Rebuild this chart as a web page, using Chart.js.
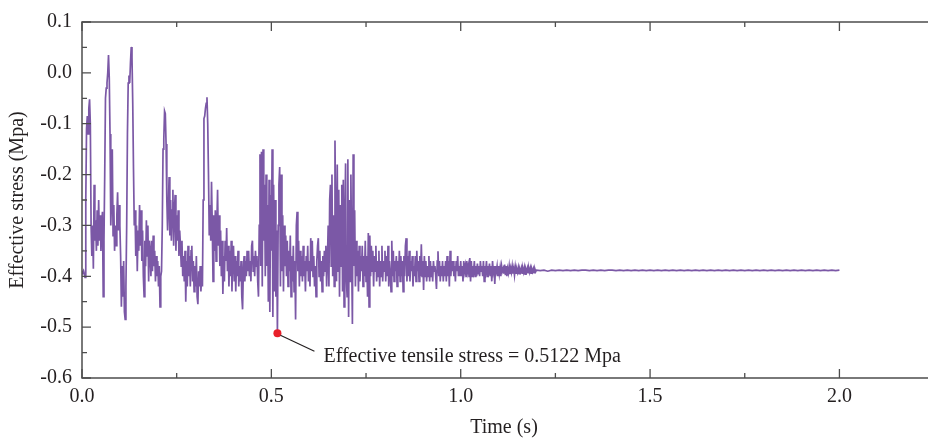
<!DOCTYPE html>
<html><head><meta charset="utf-8">
<script src="https://cdn.jsdelivr.net/npm/chart.js@4.4.1/dist/chart.umd.min.js"></script>
<style>html,body{margin:0;padding:0;background:#fff;overflow:hidden}#wrap{width:930px;height:440px;position:relative}</style>
</head><body><div id="wrap"><canvas id="c" width="930" height="440"></canvas></div>
<script>
// sampled signal, first part: 0 .. 1.198 s every 0.002 s
const earlyStep = 0.002;
const stressEarly = [
-0.390,-0.392,-0.389,-0.395,-0.402,-0.250,-0.110,-0.085,-0.120,-0.070,
-0.052,-0.100,-0.300,-0.360,-0.300,-0.385,-0.220,-0.330,-0.290,-0.350,
-0.270,-0.340,-0.250,-0.330,-0.280,-0.350,-0.300,-0.273,-0.440,-0.330,
-0.200,-0.050,-0.030,-0.020,0.000,0.035,-0.010,-0.120,-0.300,-0.250,
-0.150,-0.320,-0.260,-0.350,-0.300,-0.340,-0.280,-0.235,-0.310,-0.260,
-0.300,-0.360,-0.460,-0.380,-0.440,-0.370,-0.470,-0.485,-0.420,-0.300,
-0.120,-0.020,-0.005,-0.020,0.020,0.051,0.030,-0.060,-0.190,-0.300,
-0.270,-0.360,-0.300,-0.390,-0.310,-0.350,-0.260,-0.340,-0.270,-0.370,
-0.310,-0.400,-0.440,-0.330,-0.380,-0.290,-0.360,-0.300,-0.410,-0.330,
-0.350,-0.400,-0.330,-0.390,-0.320,-0.380,-0.350,-0.410,-0.360,-0.400,
-0.370,-0.420,-0.380,-0.460,-0.400,-0.390,-0.300,-0.150,-0.130,-0.075,
-0.080,-0.140,-0.250,-0.310,-0.260,-0.205,-0.320,-0.250,-0.330,-0.270,
-0.230,-0.340,-0.270,-0.240,-0.350,-0.280,-0.330,-0.270,-0.360,-0.310,
-0.340,-0.380,-0.330,-0.400,-0.360,-0.410,-0.350,-0.450,-0.370,-0.420,
-0.340,-0.400,-0.360,-0.420,-0.350,-0.340,-0.410,-0.370,-0.430,-0.380,
-0.420,-0.360,-0.440,-0.455,-0.390,-0.420,-0.380,-0.430,-0.400,-0.420,
-0.250,-0.090,-0.085,-0.070,-0.060,-0.048,-0.100,-0.200,-0.320,-0.260,
-0.330,-0.214,-0.300,-0.410,-0.280,-0.350,-0.270,-0.370,-0.300,-0.230,
-0.340,-0.280,-0.380,-0.310,-0.400,-0.330,-0.435,-0.360,-0.410,-0.330,
-0.370,-0.305,-0.390,-0.340,-0.420,-0.350,-0.400,-0.330,-0.430,-0.360,
-0.340,-0.410,-0.360,-0.430,-0.370,-0.400,-0.350,-0.420,-0.380,-0.410,
-0.370,-0.440,-0.465,-0.390,-0.360,-0.410,-0.370,-0.400,-0.350,-0.390,
-0.350,-0.400,-0.370,-0.410,-0.340,-0.330,-0.390,-0.360,-0.400,-0.350,
-0.380,-0.360,-0.410,-0.440,-0.300,-0.160,-0.380,-0.155,-0.420,-0.150,
-0.330,-0.220,-0.400,-0.200,-0.380,-0.260,-0.450,-0.210,-0.470,-0.240,
-0.350,-0.150,-0.480,-0.220,-0.430,-0.250,-0.440,-0.310,-0.5122,-0.300,
-0.220,-0.185,-0.420,-0.200,-0.390,-0.280,-0.430,-0.300,-0.380,-0.320,
-0.400,-0.330,-0.420,-0.350,-0.390,-0.320,-0.440,-0.360,-0.410,-0.340,
-0.430,-0.370,-0.485,-0.300,-0.273,-0.390,-0.330,-0.420,-0.350,-0.400,
-0.360,-0.410,-0.340,-0.400,-0.370,-0.430,-0.360,-0.390,-0.340,-0.410,
-0.370,-0.420,-0.325,-0.390,-0.330,-0.400,-0.360,-0.420,-0.380,-0.440,
-0.370,-0.340,-0.325,-0.400,-0.350,-0.410,-0.370,-0.430,-0.360,-0.400,
-0.350,-0.390,-0.340,-0.420,-0.370,-0.300,-0.420,-0.250,-0.220,-0.380,
-0.200,-0.400,-0.280,-0.420,-0.133,-0.300,-0.410,-0.180,-0.390,-0.230,
-0.440,-0.260,-0.380,-0.220,-0.430,-0.210,-0.460,-0.300,-0.178,-0.400,
-0.440,-0.170,-0.480,-0.250,-0.410,-0.200,-0.360,-0.494,-0.160,-0.380,
-0.270,-0.420,-0.330,-0.400,-0.350,-0.430,-0.340,-0.410,-0.360,-0.390,
-0.340,-0.420,-0.360,-0.400,-0.330,-0.410,-0.360,-0.440,-0.315,-0.460,
-0.320,-0.400,-0.340,-0.390,-0.350,-0.420,-0.360,-0.390,-0.340,-0.410,
-0.370,-0.400,-0.350,-0.420,-0.370,-0.400,-0.340,-0.410,-0.370,-0.390,
-0.350,-0.410,-0.360,-0.400,-0.340,-0.420,-0.370,-0.390,-0.430,-0.330,
-0.400,-0.350,-0.410,-0.370,-0.390,-0.360,-0.420,-0.370,-0.400,-0.350,
-0.410,-0.360,-0.400,-0.370,-0.430,-0.360,-0.400,-0.340,-0.325,-0.410,
-0.360,-0.400,-0.350,-0.410,-0.370,-0.390,-0.360,-0.420,-0.380,-0.400,
-0.360,-0.410,-0.350,-0.390,-0.370,-0.410,-0.360,-0.400,-0.337,-0.400,
-0.370,-0.427,-0.360,-0.400,-0.370,-0.410,-0.380,-0.400,-0.360,-0.410,
-0.370,-0.400,-0.380,-0.410,-0.370,-0.390,-0.380,-0.400,-0.425,-0.370,
-0.351,-0.400,-0.370,-0.410,-0.380,-0.400,-0.370,-0.410,-0.380,-0.400,
-0.370,-0.410,-0.360,-0.400,-0.370,-0.420,-0.350,-0.400,-0.370,-0.390,
-0.370,-0.400,-0.380,-0.410,-0.370,-0.390,-0.360,-0.400,-0.380,-0.400,
-0.370,-0.400,-0.380,-0.410,-0.370,-0.390,-0.380,-0.400,-0.370,-0.390,
-0.380,-0.400,-0.364,-0.410,-0.370,-0.400,-0.380,-0.390,-0.370,-0.400,
-0.380,-0.400,-0.375,-0.395,-0.380,-0.400,-0.370,-0.390,-0.380,-0.400,
-0.370,-0.410,-0.380,-0.390,-0.370,-0.400,-0.380,-0.390,-0.375,-0.400,
-0.380,-0.410,-0.370,-0.390,-0.380,-0.415,-0.380,-0.390,-0.380,-0.400,
-0.380,-0.395,-0.383,-0.400,-0.380,-0.390,-0.385,-0.395,-0.377,-0.398,
-0.380,-0.400,-0.385,-0.393,-0.380,-0.396,-0.384,-0.392,-0.380,-0.395,
-0.385,-0.398,-0.382,-0.394,-0.386,-0.392,-0.383,-0.395,-0.386,-0.391,
-0.384,-0.394,-0.385,-0.392,-0.383,-0.396,-0.386,-0.391,-0.384,-0.393,
-0.385,-0.392,-0.384,-0.394,-0.386,-0.391,-0.385,-0.393,-0.386,-0.391
];
// second part: 1.20 .. 2.00 s every 0.01 s
const lateStart = 1.2;
const lateStep = 0.01;
const stressLate = [
-0.388,-0.389,-0.388,-0.390,-0.388,-0.389,-0.388,-0.389,-0.388,-0.389,
-0.388,-0.389,-0.388,-0.388,-0.389,-0.388,-0.389,-0.388,-0.389,-0.388,
-0.388,-0.389,-0.388,-0.389,-0.388,-0.389,-0.388,-0.389,-0.388,-0.389,
-0.388,-0.389,-0.388,-0.389,-0.388,-0.389,-0.388,-0.389,-0.388,-0.389,
-0.388,-0.389,-0.388,-0.389,-0.388,-0.389,-0.388,-0.389,-0.388,-0.389,
-0.388,-0.389,-0.388,-0.389,-0.388,-0.389,-0.388,-0.389,-0.388,-0.389,
-0.388,-0.389,-0.388,-0.389,-0.388,-0.389,-0.388,-0.389,-0.388,-0.389,
-0.388,-0.389,-0.388,-0.389,-0.388,-0.389,-0.388,-0.389,-0.388,-0.389,-0.388
];
const xTickValues = [0, 0.5, 1.0, 1.5, 2.0];
const xMinorValues = [0.25, 0.75, 1.25, 1.75, 2.25];
const yTickValues = [0.1, 0.0, -0.1, -0.2, -0.3, -0.4, -0.5, -0.6];
const yMinorValues = [0.05, -0.05, -0.15, -0.25, -0.35, -0.45, -0.55];
const peakTime = 0.516;
const peakStress = -0.5122;
const peakLabel = 'Effective tensile stress = 0.5122 Mpa';

const linePoints = [];
stressEarly.forEach((v, i) => linePoints.push({x: +(i * earlyStep).toFixed(4), y: v}));
stressLate.forEach((v, i) => linePoints.push({x: +(lateStart + i * lateStep).toFixed(4), y: v}));

const FONT = {family: '"Liberation Serif", "Times New Roman", serif', size: 20};
const TXT = '#231f20';
const AX = '#4d4d4d';

const framePlugin = {
  id: 'frame',
  afterDraw(chart) {
    const {ctx, chartArea: a, scales: {x, y}} = chart;
    ctx.save();
    ctx.strokeStyle = AX;
    ctx.lineWidth = 1.5;
    ctx.beginPath();
    ctx.moveTo(a.left, a.top); ctx.lineTo(a.right + 2, a.top);
    ctx.moveTo(a.left, a.bottom); ctx.lineTo(a.right + 2, a.bottom);
    ctx.moveTo(a.left, a.top - 0.75); ctx.lineTo(a.left, a.bottom + 0.75);
    ctx.stroke();
    ctx.lineWidth = 1.3;
    ctx.beginPath();
    const tick = (vals, len) => {
      vals.forEach(v => {
        const px = x.getPixelForValue(v);
        if (px > a.right) return;
        ctx.moveTo(px, a.bottom); ctx.lineTo(px, a.bottom - len);
        ctx.moveTo(px, a.top); ctx.lineTo(px, a.top + len);
      });
    };
    tick(xTickValues, 9); tick(xMinorValues, 5);
    const ytick = (vals, len) => {
      vals.forEach(v => {
        const py = y.getPixelForValue(v);
        ctx.moveTo(a.left, py); ctx.lineTo(a.left + len, py);
      });
    };
    ytick(yTickValues, 9); ytick(yMinorValues, 5);
    ctx.stroke();
    ctx.restore();
  }
};

const notePlugin = {
  id: 'note',
  afterDatasetsDraw(chart) {
    const {ctx, scales: {x, y}} = chart;
    const px = x.getPixelForValue(peakTime), py = y.getPixelForValue(peakStress);
    ctx.save();
    ctx.strokeStyle = TXT;
    ctx.lineWidth = 1.1;
    ctx.beginPath();
    ctx.moveTo(px + 3, py + 2);
    ctx.lineTo(px + 37, py + 18);
    ctx.stroke();
    ctx.fillStyle = TXT;
    ctx.font = '20px "Liberation Serif", "Times New Roman", serif';
    ctx.textBaseline = 'alphabetic';
    ctx.textAlign = 'left';
    ctx.fillText(peakLabel, px + 46, py + 29);
    ctx.restore();
  }
};

new Chart(document.getElementById('c'), {
  type: 'line',
  data: {
    datasets: [
      {data: linePoints, borderColor: '#7b58a6', borderWidth: 1.7, pointRadius: 0, tension: 0, fill: false, order: 2},
      {data: [{x: peakTime, y: peakStress}], borderColor: '#e8202a', backgroundColor: '#e8202a', pointRadius: 4, pointBorderWidth: 0, showLine: false, order: 1}
    ]
  },
  options: {
    responsive: false,
    devicePixelRatio: 1,
    animation: false,
    parsing: false,
    layout: {padding: {top: 19, right: 0, left: 0, bottom: 0}},
    plugins: {legend: {display: false}, tooltip: {enabled: false}},
    scales: {
      x: {
        type: 'linear', min: 0, max: 2.2286,
        afterBuildTicks: s => { s.ticks = xTickValues.map(v => ({value: v})); },
        afterFit: s => { s.height = 62; },
        ticks: {callback: v => Number(v).toFixed(1), font: FONT, color: TXT, padding: 7, maxRotation: 0, autoSkip: false},
        grid: {display: false, drawTicks: false},
        border: {display: false},
        title: {display: true, text: 'Time (s)', font: FONT, color: TXT, padding: {top: 0, bottom: 0}}
      },
      y: {
        type: 'linear', min: -0.6, max: 0.1,
        afterBuildTicks: s => { s.ticks = yTickValues.map(v => ({value: v})); },
        afterFit: s => { s.width = 82; },
        ticks: {callback: v => Number(v).toFixed(1), font: FONT, color: TXT, padding: 10, autoSkip: false},
        grid: {display: false, drawTicks: false},
        border: {display: false},
        title: {display: true, text: 'Effective stress (Mpa)', font: FONT, color: TXT, padding: {top: 6, bottom: 0}}
      }
    }
  },
  plugins: [framePlugin, notePlugin]
});
</script>
</body></html>
